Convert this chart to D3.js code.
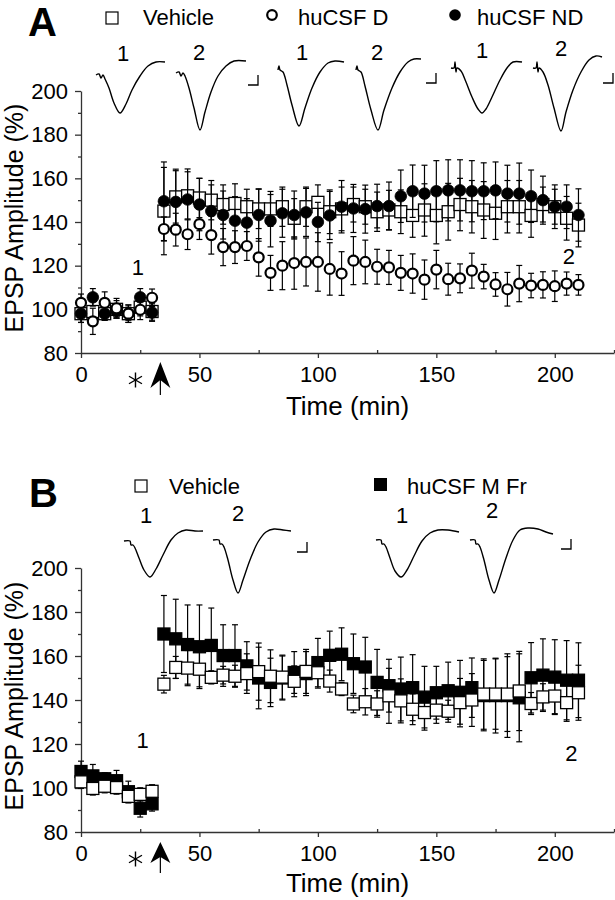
<!DOCTYPE html>
<html>
<head>
<meta charset="utf-8">
<script src="https://cdn.jsdelivr.net/npm/d3@7"></script>
<style>
  body { margin: 0; background: #fff; }
  text { font-family: "Liberation Sans", Arial, Helvetica, sans-serif; fill: #000; }
</style>
</head>
<body>
<svg id="chart"></svg>
<script>
// ---- data ----
const times = [0,5,10,15,20,25,30,35,40,45,50,55,60,65,70,75,80,85,90,95,100,105,110,115,120,125,130,135,140,145,150,155,160,165,170,175,180,185,190,195,200,205,210];

// panel A
const vehA = [98,99,98,100,98,101,99,
  145,151.5,152,151,150,148,148.5,147,146,146,147,141.7,147,149,144.7,146,148,147,144.7,145.5,144.7,143,145.5,143,144.7,148,147,145.5,144,147,147,143,148,147,141.7,138.6];
const vehAse = [4,5,3,4,3,4,4,
  20,12,11,9,9,9,9,8,9,8,9,9,9,8,10,10,8,8,9,9,10,10,12,13,13,12,12,13,12,12,12,10,8,8,10,10];
const ndA = [98,105.5,98,99,98,105.5,98.5,
  149.5,149.2,150.3,148,145,143.2,140.6,139.7,143.2,140.6,144,143.2,144.4,140,143,147,146.2,145.9,147.3,147.3,151.8,154.1,153,154.1,154.5,154.5,154.1,154.1,154.5,153,153,151.8,150,147,147,143.2];
const ndAse = [4,4,3,3,4,4,4,
  18,15,14,12,12,11,11,11,12,12,11,11,11,9,11,12,11,11,10,11,12,12,13,14,14,14,14,13,13,13,14,12,11,10,10,12];
const dA = [103,94.5,103,100.5,98,99.8,105.3,
  136.8,136.5,134.4,139,134,128.5,128.5,129,123.8,116.7,120,121.2,121.7,121.7,118.5,116.4,122.3,121.7,119.5,119.2,116.7,116.4,113.6,118.2,113.8,114.2,117.7,115,111.4,109.2,111.8,110.9,111.2,110.6,111.8,111.2];
const dAse = [4,6,5,4.5,4,4.5,4,
  5.5,7.5,7,7,8.7,8.5,7.5,6.6,8.6,8,11,12,11,13.4,12,10,11,10,8,7.8,8,9,9,8.8,7.3,6.6,8,5.6,5.4,7.7,8.3,5.6,6,7,5.3,4.7];

// panel B
const vehB = [102.8,99.8,100.8,100.2,96.2,97.1,98.5,
  147.2,154.8,154.5,154,150.3,151.3,150.8,152,152.9,150.8,150.4,148.5,153,152.4,148.6,145,138.2,139.2,138.2,141.9,139.6,135.8,134.3,135.4,134.9,138.8,140,142.7,142.7,142.7,144.1,138.4,141.4,141.8,138.8,143.3];
const vehBse = [3,3,3,3,3,3,3,
  4,5,8,8,3,4,5,9,13,12,10,7,10,7,5,3,4,6,6,12.5,10,7,8,6,5,11,12,16,16,17,18,5,6,8,8.5,12.5];
const mfrB = [107.5,105.5,104.2,103.3,98.3,90.8,92.8,
  170,167.8,165.2,164.2,164.8,160.2,160.2,155.5,150,148,150,152.5,152,157,160.3,160.8,156.5,155,148,146.5,145,145.6,141.3,143.3,144.2,143.5,145.6,142,142,142,141,150.1,151.3,150.4,149,149];
const mfrBse = [4.7,5.2,2.7,4.7,4.8,4,3.3,
  17.5,18,18,19,17,14,14,11,14,11,10,9.5,10,11,11,12,13.5,13.5,15,12,14.5,15,14,12,13,14.5,13.5,16,17,19,20,16,16.5,17,18,17];

const xTicks = [0, 50, 100, 150, 200];
const xMinor = [25, 75, 125, 175, 225];
const yTicks = [80, 100, 120, 140, 160, 180, 200];
const yMinor = [90, 110, 130, 150, 170, 190];

// EPSP sample traces: [ms, mV] relative to the late baseline
const trVehA1 = [[0,-0.7],[1.5,-0.65],[2.5,-0.85],[3.5,-0.7],[4.5,-0.9],[6.5,-1.35],[9,-2.1],[12,-2.6],[15,-2.15],[18,-1.45],[22,-0.75],[26,-0.25],[30,-0.05],[34.5,-0.05]];
const trVehA2 = [[0,-0.6],[1.5,-0.55],[2.5,-0.75],[3.5,-0.6],[4.5,-0.75],[6.5,-1.35],[9,-2.35],[12,-3.45],[14.5,-2.55],[17.5,-1.55],[21,-0.75],[25,-0.25],[29,0],[35,0]];
const trDA1 = [[0,-0.45],[0.5,-0.25],[1,-0.45],[2.5,-0.55],[4.5,-1.2],[7,-2.2],[10.5,-3.25],[13.5,-2.35],[17,-1.35],[21,-0.55],[25,-0.1],[28.5,0],[33,-0.05]];
const trDA2 = [[0,-0.45],[0.5,-0.25],[1,-0.45],[2.5,-0.55],[4.5,-1.25],[7.5,-2.45],[11,-3.45],[14,-2.45],[18,-1.35],[22,-0.55],[26,-0.05],[29,0.1],[32.5,0.1]];
const trNdA1 = [[0,-0.35],[1.5,-0.35],[2,-0.05],[2.5,-0.55],[3,-0.35],[5,-0.5],[7.5,-1.05],[10.5,-1.8],[13.5,-2.4],[15.5,-2.6],[17.5,-2.4],[20.5,-1.8],[24.5,-0.95],[28,-0.35],[31,-0.05],[35.5,-0.05]];
const trNdA2 = [[0,-0.35],[1.5,-0.35],[2,-0.05],[2.5,-0.55],[3,-0.35],[5,-0.55],[7.5,-1.2],[10.5,-2.35],[14,-3.5],[16.5,-2.55],[20,-1.45],[24,-0.55],[28,0.05],[31.5,0.25],[34.5,0.2]];
const trVehB1 = [[0,-0.5],[3,-0.5],[3.5,-0.7],[4.5,-0.7],[5.5,-0.85],[7.5,-1.35],[10,-1.95],[13,-2.3],[16,-1.9],[19.5,-1.2],[23.5,-0.45],[27,-0.1],[31,0.05],[35.5,0],[39.5,0]];
const trVehB2 = [[0,-0.45],[3,-0.45],[3.5,-0.65],[4.5,-0.65],[5.5,-0.8],[7.5,-1.45],[10,-2.45],[12.5,-3.1],[15,-2.45],[18.5,-1.45],[22.5,-0.55],[26.5,-0.05],[30.5,0.1],[35,0.05],[39,0]];
const trMfrB1 = [[0,-0.45],[2.5,-0.45],[3,-0.65],[4,-0.65],[5,-0.8],[7,-1.35],[9.5,-2.0],[12.5,-2.3],[15.5,-1.95],[19,-1.25],[23,-0.5],[27,-0.1],[31,0.05],[36,0.05],[41.5,-0.05]];
const trMfrB2 = [[0,-0.45],[2.5,-0.45],[3,-0.65],[4,-0.65],[5,-0.8],[7,-1.45],[9.5,-2.45],[12,-3.1],[14.5,-2.45],[18,-1.35],[21.5,-0.45],[25,0.05],[29,0.15],[34,0.1],[38,-0.05],[41.5,-0.15]];
const scaleBarMs = 5, scaleBarMv = 0.5;

// ---- layout ----
const W = 615, H = 900;
const svg = d3.select("#chart").attr("width", W).attr("height", H);

const x = d3.scaleLinear().domain([0, 225]).range([81, 614]);
const yA = d3.scaleLinear().domain([80, 200]).range([353, 91]);
const yB = d3.scaleLinear().domain([80, 200]).range([832, 568]);

function drawAxes(y, titleY) {
  const g = svg.append("g");
  const base = y.range()[0];
  g.append("g").attr("transform", `translate(0,${base})`)
    .call(d3.axisBottom(x).tickValues(xTicks).tickSize(5).tickPadding(8).tickSizeOuter(0));
  g.append("g").attr("transform", `translate(0,${base})`)
    .call(d3.axisBottom(x).tickValues(xMinor).tickSize(-3).tickFormat(""))
    .select(".domain").remove();
  g.append("g").attr("transform", `translate(${x(0)},0)`)
    .call(d3.axisLeft(y).tickValues(yTicks).tickSize(6).tickPadding(7).tickSizeOuter(0));
  g.append("g").attr("transform", `translate(${x(0)},0)`)
    .call(d3.axisLeft(y).tickValues(yMinor).tickSize(3).tickFormat(""))
    .select(".domain").remove();
  g.selectAll("text").style("font-size", "22px");
  g.selectAll("path, line").attr("stroke", "#333").attr("stroke-width", 1.3);

  svg.append("text")
    .attr("transform", `translate(23,${(y.range()[0] + y.range()[1]) / 2 - 4}) rotate(-90)`)
    .attr("text-anchor", "middle").style("font-size", "25px")
    .text("EPSP Amplitude (%)");
  svg.append("text").attr("x", (x.range()[0] + x.range()[1]) / 2).attr("y", titleY)
    .attr("text-anchor", "middle").style("font-size", "26px").text("Time (min)");
}

function drawSeries(y, mean, se, shape, filled, size) {
  const g = svg.append("g");
  times.forEach((t, i) => {
    const cx = x(t), lo = y(mean[i] - se[i]), hi = y(mean[i] + se[i]);
    g.append("line").attr("x1", cx).attr("x2", cx).attr("y1", lo).attr("y2", hi)
      .attr("stroke", "#000").attr("stroke-width", 1.2);
    [lo, hi].forEach(v => g.append("line").attr("x1", cx - 3).attr("x2", cx + 3)
      .attr("y1", v).attr("y2", v).attr("stroke", "#000").attr("stroke-width", 1.2));
  });
  times.forEach((t, i) => {
    const cx = x(t), cy = y(mean[i]);
    if (shape === "square") {
      g.append("rect").attr("x", cx - size / 2).attr("y", cy - size / 2)
        .attr("width", size).attr("height", size)
        .attr("fill", filled ? "#000" : "#fff").attr("stroke", "#000").attr("stroke-width", 1.3);
    } else {
      g.append("circle").attr("cx", cx).attr("cy", cy).attr("r", size)
        .attr("fill", filled ? "#000" : "#fff").attr("stroke", "#000")
        .attr("stroke-width", filled ? 0.8 : 2.2);
    }
  });
}

const pxPerMs = 2, pxPerMv = 20;
function drawTrace(pts, x0, yRef) {
  const tx = d3.scaleLinear().domain([0, 1]).range([x0, x0 + pxPerMs]);
  const ty = d3.scaleLinear().domain([0, 1]).range([yRef, yRef - pxPerMv]);
  svg.append("path").datum(pts)
    .attr("d", d3.line().x(d => tx(d[0])).y(d => ty(d[1])).curve(d3.curveCatmullRom))
    .attr("fill", "none").attr("stroke", "#000").attr("stroke-width", 1.4);
}
function drawScaleBar(cx, cy) {
  const w = scaleBarMs * pxPerMs, h = scaleBarMv * pxPerMv;
  svg.append("path").attr("d", `M${cx - w},${cy}H${cx}V${cy - h}`)
    .attr("fill", "none").attr("stroke", "#000").attr("stroke-width", 1.3);
}
function label(txt, cx, cy, size) {
  svg.append("text").attr("x", cx).attr("y", cy).attr("text-anchor", "middle")
    .attr("dy", "0.36em").style("font-size", size + "px").text(txt);
}
function drawMarkers(y, tAst, tArrow, tipOff, baseOff, notchOff, tailOff) {
  const base = y.range()[0];
  const ax = x(tArrow);
  svg.append("path")
    .attr("d", `M${ax},${base + tipOff}L${ax + 10},${base + baseOff}L${ax},${base + notchOff}L${ax - 10},${base + baseOff}Z`)
    .attr("fill", "#000");
  svg.append("line").attr("x1", ax).attr("x2", ax).attr("y1", base + notchOff).attr("y2", base + tailOff)
    .attr("stroke", "#000").attr("stroke-width", 1.2);
  const sx = x(tAst), sy = base + 27, r = 7.5;
  [90, 30, 150].forEach(a => {
    const dx = r * Math.cos(a * Math.PI / 180), dy = r * Math.sin(a * Math.PI / 180);
    svg.append("line").attr("x1", sx - dx).attr("x2", sx + dx).attr("y1", sy - dy).attr("y2", sy + dy)
      .attr("stroke", "#000").attr("stroke-width", 1.4);
  });
}

// ---- panel A ----
svg.append("text").attr("x", 28).attr("y", 36).style("font-size", "40px").style("font-weight", "bold").text("A");
svg.append("rect").attr("x", 106).attr("y", 12).attr("width", 12).attr("height", 12)
  .attr("fill", "#fff").attr("stroke", "#000").attr("stroke-width", 1.2);
svg.append("text").attr("x", 143).attr("y", 25).style("font-size", "22px").text("Vehicle");
svg.append("circle").attr("cx", 272).attr("cy", 15).attr("r", 4.8)
  .attr("fill", "#fff").attr("stroke", "#000").attr("stroke-width", 2.2);
svg.append("text").attr("x", 298).attr("y", 25).style("font-size", "22px").text("huCSF D");
svg.append("circle").attr("cx", 455).attr("cy", 15).attr("r", 5.8).attr("fill", "#000");
svg.append("text").attr("x", 477).attr("y", 25).style("font-size", "22px").text("huCSF ND");

drawTrace(trVehA1, 96, 61); drawTrace(trVehA2, 176, 61);
drawTrace(trDA1, 278, 61); drawTrace(trDA2, 356, 61);
drawTrace(trNdA1, 451, 61); drawTrace(trNdA2, 533, 61);
drawScaleBar(258, 85); drawScaleBar(436, 83); drawScaleBar(613, 83);
[[123, 53, "1"], [199, 52, "2"], [302, 52, "1"], [377, 52, "2"], [482, 50, "1"], [561, 48, "2"]]
  .forEach(d => label(d[2], d[0], d[1], 22));

drawAxes(yA, 415);
drawSeries(yA, vehA, vehAse, "square", false, 12);
drawSeries(yA, ndA, ndAse, "circle", true, 5.8);
drawSeries(yA, dA, dAse, "circle", false, 5);
label("1", x(24), yA(119.4), 22);
label("2", x(206), yA(124.4), 22);
drawMarkers(yA, 23, 33.5, 9, 35, 27, 42);

// ---- panel B ----
svg.append("text").attr("x", 29).attr("y", 507).style("font-size", "40px").style("font-weight", "bold").text("B");
svg.append("rect").attr("x", 135).attr("y", 480).attr("width", 12).attr("height", 12)
  .attr("fill", "#fff").attr("stroke", "#000").attr("stroke-width", 1.2);
svg.append("text").attr("x", 169).attr("y", 494).style("font-size", "22px").text("Vehicle");
svg.append("rect").attr("x", 374).attr("y", 478).attr("width", 13).attr("height", 13).attr("fill", "#000");
svg.append("text").attr("x", 407).attr("y", 494).style("font-size", "22px").text("huCSF M Fr");

drawTrace(trVehB1, 124, 531); drawTrace(trVehB2, 213, 531);
drawTrace(trMfrB1, 376, 531); drawTrace(trMfrB2, 470, 531);
drawScaleBar(307, 552); drawScaleBar(571, 549);
[[146, 515, "1"], [238, 513, "2"], [402, 515, "1"], [492, 510, "2"]]
  .forEach(d => label(d[2], d[0], d[1], 22));

drawAxes(yB, 892);
drawSeries(yB, mfrB, mfrBse, "square", true, 12);
drawSeries(yB, vehB, vehBse, "square", false, 12);
label("1", x(26), yB(121.6), 22);
label("2", x(207), yB(116), 22);
drawMarkers(yB, 23, 33.5, 10, 31, 25, 41);
</script>
</body>
</html>
